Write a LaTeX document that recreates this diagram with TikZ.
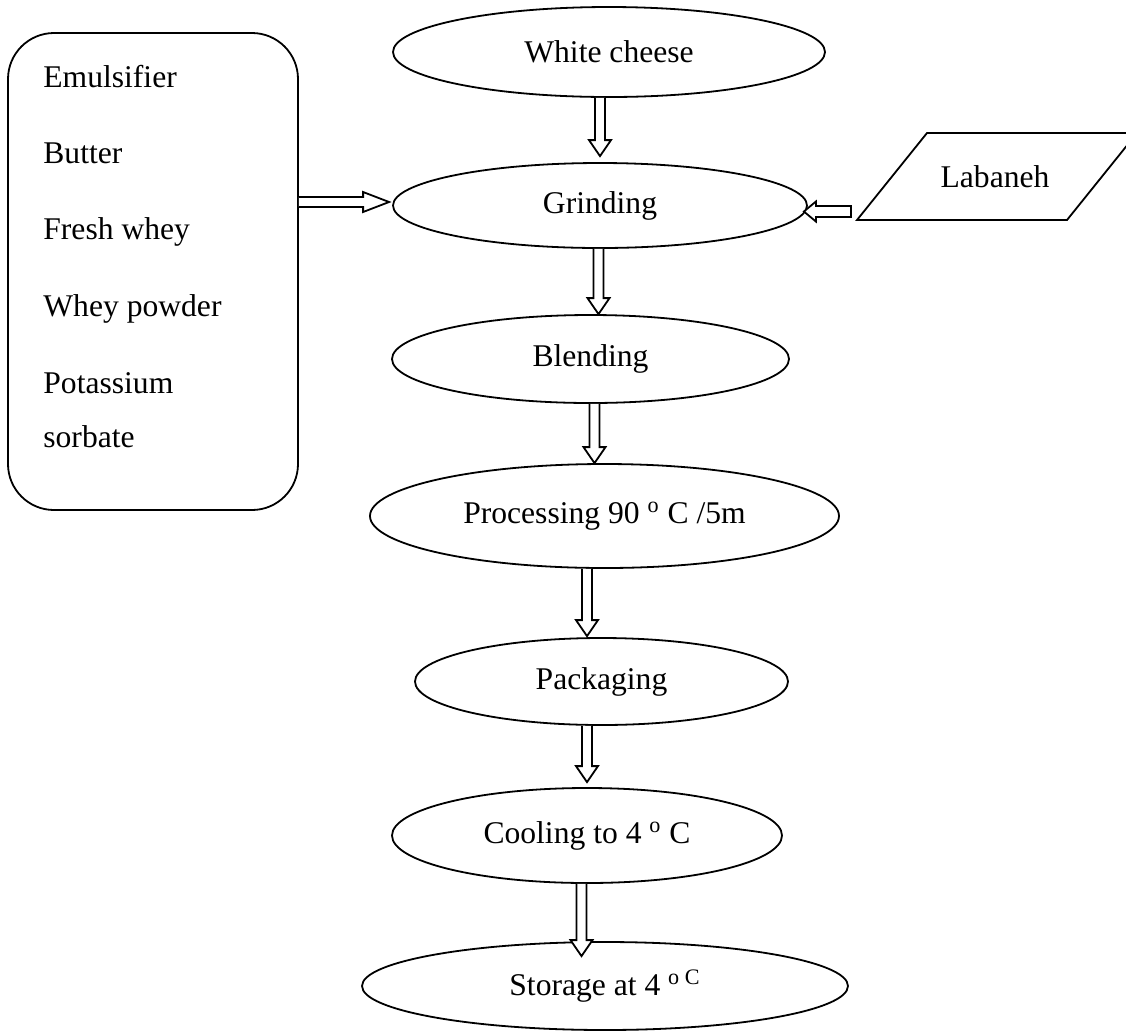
\documentclass[tikz,border=0pt]{standalone}
\usepackage{fontspec}
\setmainfont{Liberation Serif}
\usetikzlibrary{shapes.geometric,calc}
\tikzset{
  txt/.style={font=\fontsize{15.8pt}{19pt}\selectfont, inner sep=0pt},
  oval/.style={ellipse, draw, line width=0.9pt, inner sep=0pt, font=\fontsize{15.8pt}{19pt}\selectfont},
  blk/.style={draw, fill=white, line width=0.9pt, line join=miter},
}
% vertical block arrow: #1 = x (px), #2 = from node, #3 = to node, #4 = tip gap (px, positive = above target top)
\newcommand\varr[4]{%
  \path[blk] let \p1=(#2.south), \p2=(#3.north) in
    ({#1*0.5pt-2.5pt},\y1) -- ({#1*0.5pt-2.5pt},{\y2+#4*0.5pt+8pt}) --
    ({#1*0.5pt-5.5pt},{\y2+#4*0.5pt+8pt}) -- ({#1*0.5pt},{\y2+#4*0.5pt}) --
    ({#1*0.5pt+5.5pt},{\y2+#4*0.5pt+8pt}) -- ({#1*0.5pt+2.5pt},{\y2+#4*0.5pt+8pt}) --
    ({#1*0.5pt+2.5pt},\y1);}
\begin{document}
\begin{tikzpicture}[x=0.5pt,y=-0.5pt]
\useasboundingbox (0,0) rectangle (1126,1030);
\clip (0,0) rectangle (1126,1030);

% ingredients box
\node[draw, line width=0.9pt, rounded corners=23pt, minimum width=145pt, minimum height=238.5pt, inner sep=0pt] (box) at (153,271.5) {};
\node[txt, anchor=base west] (t1) at (43,87) {Emulsifier};
\node[txt, anchor=base west] (t2) at (43,163) {Butter};
\node[txt, anchor=base west] (t3) at (43,239) {Fresh whey};
\node[txt, anchor=base west] (t4) at (43,316) {Whey powder};
\node[txt, anchor=base west] (t5) at (43,393) {Potassium};
\node[txt, anchor=base west] (t6) at (43,447) {sorbate};

% process steps
\node[oval, minimum width=216pt, minimum height=45pt] (wc) at (609,52) {White cheese};
\node[oval, minimum width=207pt, minimum height=42.5pt] (gr) at (600,205.5) {Grinding};
\node[oval, minimum width=198.5pt, minimum height=44pt] (bl) at (590.5,359) {Blending};
\node[oval, minimum width=234.5pt, minimum height=52pt] (pr) at (604.5,516) {Processing 90 \textsuperscript{o} C /5m};
\node[oval, minimum width=186.5pt, minimum height=43.5pt] (pk) at (601.5,681.5) {Packaging};
\node[oval, minimum width=195pt, minimum height=47.5pt] (co) at (587,835.5) {Cooling to 4 \textsuperscript{o} C};
\node[oval, minimum width=243pt, minimum height=44pt] (st) at (605,986) {Storage at 4 \textsuperscript{o C}};

% Labaneh parallelogram
\coordinate (la1) at (927,133);
\coordinate (la2) at (1137,133);
\coordinate (la3) at (1067,220);
\coordinate (la4) at (857,220);
\draw[line width=0.9pt, line join=miter] (la1) -- (la2) -- (la3) -- (la4) -- cycle;
\node[txt] (lab) at (995,177) {Labaneh};
\coordinate (labin) at (851,211.5);

% vertical arrows
\varr{600}{wc}{gr}{6}
\varr{598.5}{gr}{bl}{0}
\varr{594.5}{bl}{pr}{0}
\varr{587}{pr}{pk}{1}
\varr{587}{pk}{co}{5}
\varr{581.5}{co}{st}{-15}

% left arrow: box -> grinding
\path[blk] let \p1=(box.east), \p2=(gr.west) in
  (\x1,{\y2+4.25pt}) -- ({\x2-14.5pt},{\y2+4.25pt}) -- ({\x2-14.5pt},{\y2+6.75pt}) --
  ({\x2-1.5pt},{\y2+1.75pt}) -- ({\x2-14.5pt},{\y2-3.25pt}) -- ({\x2-14.5pt},{\y2-0.75pt}) --
  (\x1,{\y2-0.75pt});

% right arrow: labaneh -> grinding
\path[blk] let \p1=(labin), \p2=(gr.east) in
  (\x1,{\y1+2.75pt}) -- ({\x2+4pt},{\y1+2.75pt}) -- ({\x2+4pt},{\y1+5pt}) --
  ({\x2-2pt},\y1) -- ({\x2+4pt},{\y1-5pt}) -- ({\x2+4pt},{\y1-2.75pt}) --
  (\x1,{\y1-2.75pt}) -- cycle;
\end{tikzpicture}
\end{document}
